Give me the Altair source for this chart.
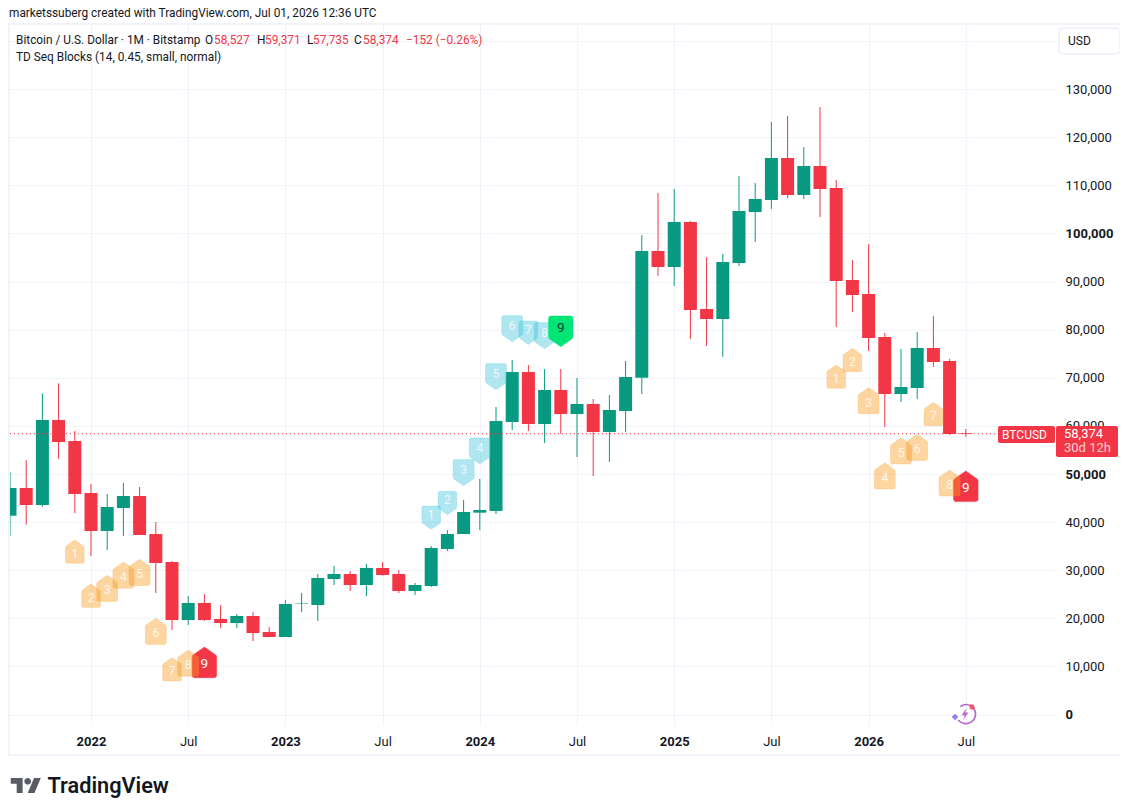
import altair as alt
import pandas as pd

months = list(range(-5, 55))
opens = [41330,47090,43550,61220,56860,46050,38150,42930,45420,37520,31700,19650,23180,19850,19020,20480,17150,16110,23050,22760,
         28170,29210,26920,30460,29210,25680,26720,34410,37530,41960,42310,60810,71200,60395,67460,62470,64550,58730,63100,70030,
         96360,93030,102390,84300,82230,93870,104470,106960,115700,108000,114030,109460,90330,87420,78480,66630,67880,76200,73490,58527]
highs = [50420,52910,66770,68850,58940,47920,45840,48130,47300,40020,31910,24630,25050,22760,20890,21310,18190,23800,25260,29210,
         30870,29830,31290,31700,30040,27340,35030,38360,44590,48960,63930,73700,72660,71830,71830,69960,65590,66420,73490,99690,
         108420,109250,102600,95110,95740,111950,110500,123180,124430,117980,126300,111120,94490,97820,79320,75990,79520,82850,73910,59371]
lows = [37170,39460,43200,53120,41890,32950,34200,37110,37300,25260,17570,18600,19440,17980,17980,15280,16110,16110,21310,19440,
        26920,25680,24640,28860,25260,24850,26510,34000,37530,38360,41680,59150,58940,56450,58320,53530,49580,52490,58730,66630,
        91160,89090,78070,76610,74320,93240,98230,105100,107380,107170,103430,80560,83680,75570,59770,64970,65600,72250,58110,57735]
closes = [47090,43550,61220,56650,45840,38150,43140,45420,37320,31500,19650,23180,19650,19020,20480,16940,16110,22970,23150,28380,
          29210,26920,30460,29000,25680,26920,34620,37530,42100,42520,61020,71200,60395,67460,62470,64550,58730,63300,70170,96360,
          93030,102390,84100,82230,94080,104680,107170,115700,108000,114030,109250,90120,87210,78280,66630,68090,76200,73290,58320,58374]

buy_months_a = [-1, 0, 1, 2, 3, 4, 5, 6, 7]
buy_prices_a = [33850, 24700, 26230, 28970, 29550, 17290, 9390, 10700, 10840]
buy_months_b = [46, 47, 48, 49, 50, 51, 52, 53, 54]
buy_prices_b = [70240, 73700, 65250, 49590, 54790, 55550, 62480, 48130, 47440]
sell_months = [21, 22, 23, 24, 25, 26, 27, 28, 29]
sell_prices = [40920, 43970, 50280, 54780, 70240, 80215, 79380, 78760, 79660]
counts = [1, 2, 3, 4, 5, 6, 7, 8, 9]

x_ticks = list(range(0, 55, 6))
x_labels = ["2022", "Jul", "2023", "Jul", "2024", "Jul", "2025", "Jul", "2026", "Jul"]
y_ticks = list(range(0, 150000, 10000))
last_price = 58374

FONT = "Roboto"
INK = "#131722"
UP = "#089981"
DOWN = "#F23645"
GRID = "#F0F3FA"
OX, OY = 9, 24  # page position of the plot origin

HOUSE_UP = ("M0,-1.25 L0.9,-0.62 Q1,-0.55 1,-0.42 L1,1.05 Q1,1.25 0.8,1.25 L-0.8,1.25 "
            "Q-1,1.25 -1,1.05 L-1,-0.42 Q-1,-0.55 -0.9,-0.62 Z")
HOUSE_DOWN = ("M0,1.25 L0.9,0.62 Q1,0.55 1,0.42 L1,-1.05 Q1,-1.25 0.8,-1.25 L-0.8,-1.25 "
              "Q-1,-1.25 -1,-1.05 L-1,0.42 Q-1,0.55 -0.9,0.62 Z")
LOGO = ("M-0.222,0.5 L-0.611,0.5 L-0.611,-0.111 L-1,-0.111 L-1,-0.5 L-0.222,-0.5 Z "
        "M0.556,0.5 L0.111,0.5 L0.528,-0.5 L0.972,-0.5 Z "
        "M-0.111,-0.278 C-0.111,-0.4 0,-0.5 0.111,-0.5 C0.233,-0.5 0.333,-0.4 0.333,-0.278 "
        "C0.333,-0.156 0.233,-0.056 0.111,-0.056 C0,-0.056 -0.111,-0.156 -0.111,-0.278 Z")
BOLT = "M0.25,-1 L-0.55,0.2 L-0.05,0.2 L-0.3,1 L0.55,-0.25 L0.05,-0.25 Z"
ARC = ("M-0.6,-0.8 C-0.2,-1.1 0.4,-1.1 0.75,-0.7 C1.15,-0.25 1.1,0.45 0.65,0.8 "
       "C0.2,1.15 -0.45,1.1 -0.85,0.65")

xs = alt.Scale(domain=[(OX - 91) / 16.2, (1055 - 91) / 16.2], nice=False, zero=False, padding=0)
ys = alt.Scale(domain=[(714.5 - 725) / 48.1 * 10000, (714.5 - 24) / 48.1 * 10000], nice=False, zero=False)

df = pd.DataFrame({"m": months, "o": opens, "h": highs, "l": lows, "c": closes})
df["dir"] = ["up" if c >= o else "down" for o, c in zip(opens, closes)]
dir_color = alt.Color("dir:N", scale=alt.Scale(domain=["up", "down"], range=[UP, DOWN]), legend=None)

x_label_expr = "[" + ",".join("'%s'" % s for s in x_labels) + "][datum.value / 6]"
x_axis = alt.Axis(values=x_ticks, labelExpr=x_label_expr, title=None, domain=False, ticks=False,
                  grid=True, gridColor=GRID, gridWidth=1, labelFont=FONT, labelFontSize=13,
                  labelColor=INK, labelPadding=10, labelOverlap=False, labelBound=False, labelFlush=False,
                  labelFontWeight={"condition": {"test": "datum.value % 12 == 0", "value": "bold"}, "value": "normal"})
y_axis = alt.Axis(values=y_ticks, orient="right", labelExpr="datum.value > 130000 ? '' : format(datum.value, ',d')",
                  title=None, domain=False, ticks=False, grid=True, gridColor=GRID, gridWidth=1,
                  labelFont=FONT, labelFontSize=13, labelColor=INK, labelAlign="left", labelPadding=10,
                  labelOverlap=False, labelBound=False, labelFlush=False,
                  labelFontWeight={"condition": {"test": "datum.value == 0 || datum.value == 50000 || datum.value == 100000",
                                                 "value": "bold"}, "value": "normal"})
X = alt.X("m:Q", scale=xs, axis=x_axis)


def Y(field):
    return alt.Y(field, scale=ys, axis=y_axis)


base = alt.Chart(df)
wicks = base.mark_rule(strokeWidth=1, clip=True).encode(x=X, y=Y("l:Q"), y2="h:Q", color=dir_color)
bodies = base.mark_bar(size=13, orient="vertical", clip=True).encode(x=X, y=Y("o:Q"), y2="c:Q", color=dir_color)
last_line = alt.Chart(pd.DataFrame({"p": [last_price]})).mark_rule(
    color=DOWN, strokeWidth=1, strokeDash=[1, 3]
).encode(y=Y("p:Q"))


def td_layers(ms, ps, shape, light, strong, strong_text, dy, strong_first):
    d = pd.DataFrame({"m": ms, "p": ps, "n": counts})

    def marks(sub, color, opacity, txt, size_txt, txt_op, size_expr):
        pts = alt.Chart(sub).transform_calculate(sz=size_expr).mark_point(
            shape=shape, filled=True, fill=color, fillOpacity=opacity,
            stroke=color, strokeOpacity=min(1, opacity * 0.5), strokeWidth=1).encode(
            x=X, y=Y("p:Q"), size=alt.Size("sz:Q", scale=None, legend=None))
        lab = alt.Chart(sub).mark_text(font=FONT, fontSize=size_txt, color=txt, opacity=txt_op, dy=dy).encode(
            x=X, y=Y("p:Q"), text="n:N")
        return pts, lab

    l_pts, l_lab = marks(d[d.n < 9], light, 0.42, "#FFFFFF", 12, 0.8,
                         "(datum.n == 1 || datum.n == 2 || datum.n == 7) ? 350 : 440")
    s_pts, s_lab = marks(d[d.n == 9], strong, 1, strong_text, 13.5, 1, "600")
    return [s_pts, s_lab, l_pts, l_lab] if strong_first else [l_pts, l_lab, s_pts, s_lab]


ORANGE = "#F89B1F"
BLUE = "#40C4DC"
td = (td_layers(buy_months_a, buy_prices_a, HOUSE_UP, ORANGE, DOWN, "#FFFFFF", 2, True)
      + td_layers(buy_months_b, buy_prices_b, HOUSE_UP, ORANGE, DOWN, "#FFFFFF", 2, True)
      + td_layers(sell_months, sell_prices, HOUSE_DOWN, BLUE, "#00E676", "#0B3D2A", -3, False))

one = alt.Data(values=[{"a": 1}])


def text(s, px, py, color=INK, size=11.85, weight=400, align="left", opacity=1):
    return alt.Chart(one).mark_text(text=s, font=FONT, fontSize=size, fontWeight=weight, color=color,
                                    align=align, baseline="middle", opacity=opacity).encode(
        x=alt.value(px - OX), y=alt.value(py - OY))


def box(x0, y0, x1, y1, fill="transparent", stroke=None, width=0, radius=0):
    kw = dict(fill=fill, cornerRadius=radius, strokeWidth=width)
    if stroke:
        kw["stroke"] = stroke
    return alt.Chart(one).mark_rect(**kw).encode(
        x=alt.value(x0 - OX), x2=alt.value(x1 - OX), y=alt.value(y0 - OY), y2=alt.value(y1 - OY))


def glyph(shape, px, py, size, **kw):
    return alt.Chart(one).mark_point(shape=shape, size=size, **kw).encode(
        x=alt.value(px - OX), y=alt.value(py - OY))


chrome = [
    box(9, 24, 1123, 755, stroke=GRID, width=2),
    box(1059, 28, 1120, 54, fill="#FFFFFF", stroke=GRID, width=2, radius=4),
    text("USD", 1068, 41, size=12),
    text("marketssuberg created with TradingView.com, Jul 01, 2026 12:36 UTC", 9, 13),
    text("Bitcoin / U.S. Dollar · 1M · Bitstamp", 16, 40),
    text("O", 205, 40), text("58,527", 214, 40, color=DOWN),
    text("H", 257, 40), text("59,371", 265, 40, color=DOWN),
    text("L", 307, 40), text("57,735", 313, 40, color=DOWN),
    text("C", 354, 40), text("58,374", 363, 40, color=DOWN),
    text("−152 (−0.26%)", 406, 40, color=DOWN),
    text("TD Seq Blocks (14, 0.45, small, normal)", 16, 57),
    box(998, 426, 1055, 443, fill=DOWN, radius=2),
    text("BTCUSD", 1002, 434.5, color="#FFFFFF", size=12),
    box(1056, 426, 1118, 457, fill=DOWN, radius=2),
    text("58,374", 1064, 434, color="#FFFFFF", size=13),
    text("30d 12h", 1064, 448, color="#FFFFFF", size=13, opacity=0.75),
    glyph(ARC, 966, 714, 350, filled=False, stroke="#9C27B0", strokeWidth=1.6),
    glyph(BOLT, 965, 714, 150, filled=True, fill="#9C27B0", strokeWidth=0),
    glyph("diamond", 955, 717, 45, filled=True, fill="#6A4CF5", strokeWidth=0),
    glyph("circle", 972, 707, 28, filled=True, fill=DOWN, strokeWidth=0),
    glyph(LOGO, 26, 785.5, 930, filled=True, fill=INK, strokeWidth=0),
    text("TradingView", 47.5, 785.5, size=21.7, weight=600),
]

chart = alt.layer(wicks, bodies, last_line, *td, *chrome).properties(
    width=1046, height=701,
    padding={"left": 1, "top": 16, "right": 65, "bottom": 74},
    autosize=alt.AutoSizeParams(type="none"),
    background="#FFFFFF",
).configure_view(stroke=None)

chart.save("out.html", embed_options={"renderer": "svg", "actions": False})
